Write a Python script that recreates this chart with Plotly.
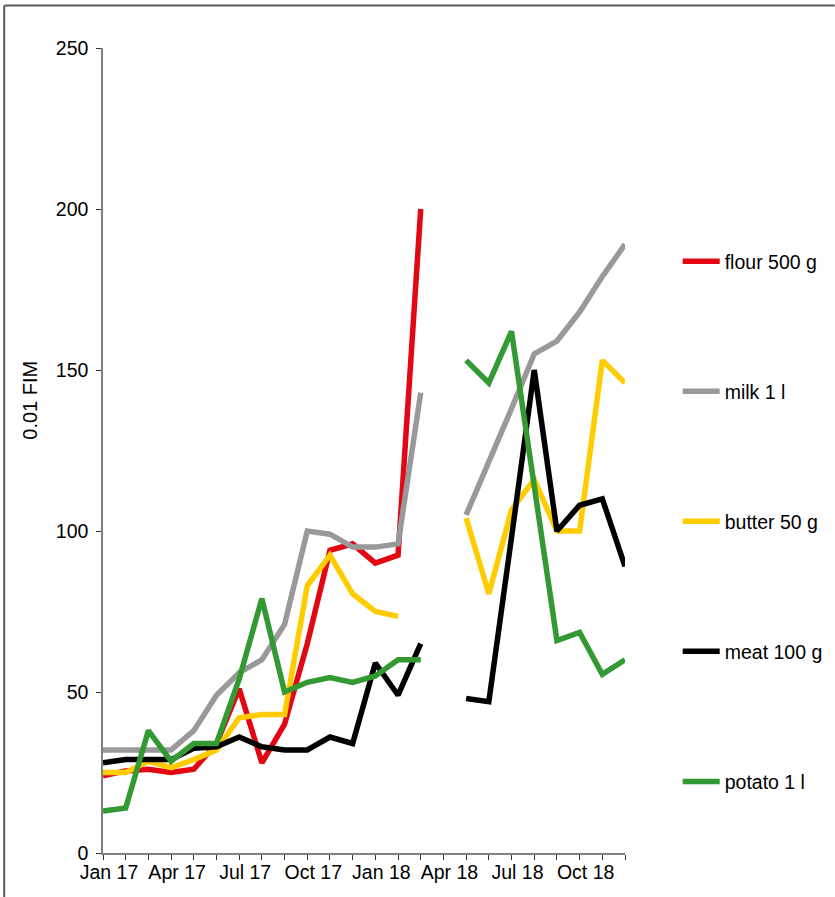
import plotly.graph_objects as go

months = ["Jan 17", "Feb 17", "Mar 17", "Apr 17", "May 17", "Jun 17",
          "Jul 17", "Aug 17", "Sep 17", "Oct 17", "Nov 17", "Dec 17",
          "Jan 18", "Feb 18", "Mar 18", "Apr 18", "May 18", "Jun 18",
          "Jul 18", "Aug 18", "Sep 18", "Oct 18", "Nov 18", "Dec 18"]
tick_labels = ["Jan 17", "Apr 17", "Jul 17", "Oct 17", "Jan 18", "Apr 18", "Jul 18", "Oct 18"]

flour = [24, 25.5, 26, 25, 26, 34, 51, 28, 40, 65, 94, 96, 90, 92.5, 200,
         None, None, None, None, None, None, None, None, None]
milk = [32, 32, 32, 32, 38, 49, 56, 60, 71, 100, 99, 95, 95, 96, 143,
        None, 105, 121, 138, 155, 159, 168, 179, 189]
butter = [25, 25, 28.5, 26.5, 29, 32, 42, 43, 43, 83, 92.5, 80.5, 75, 73.5, None,
          None, 104, 80.5, 106.5, 116, 100, 100, 153, 146]
meat = [28, 29, 29, 29, 32.5, 33, 36, 33, 32, 32, 36, 34, 59, 49, 65,
        None, 48, 47, 98, 150, 100, 108, 110, 89]
potato = [13, 14, 38, 28.5, 34, 34, 54, 79, 50, 53, 54.5, 53, 55, 60, 60,
          None, 153, 146, 162, 113, 66, 68.5, 55.5, 60]

series = [
    ("flour 500 g", flour, "#e30613"),
    ("milk 1 l", milk, "#999999"),
    ("butter 50 g", butter, "#ffcc00"),
    ("meat 100 g", meat, "#000000"),
    ("potato 1 l", potato, "#339933"),
]

x_idx = list(range(len(months)))
FONT = "Liberation Sans, Arial, sans-serif"

fig = go.Figure()
for name, vals, color in series:
    fig.add_trace(go.Scatter(
        x=x_idx, y=vals, name=name, mode="lines",
        line=dict(color=color, width=5.5),
        legendgroup=name, connectgaps=False,
        hovertemplate="%{text}: %{y}<extra>" + name + "</extra>",
        text=months,
    ))

ticktext = [m if m in tick_labels else "" for m in months]

W, H = 835, 897
L, R, T, B = 103.3, 835 - 625.3, 48, 897 - 853
pw, ph = W - L - R, H - T - B

def px_to_paper_x(px):
    return (px - L) / pw

def px_to_paper_y(py):
    return (H - B - py) / ph

fig.update_layout(
    width=W, height=H,
    margin=dict(l=L, r=R, t=T, b=B, pad=0, autoexpand=False),
    paper_bgcolor="white", plot_bgcolor="white",
    font=dict(family=FONT, size=19.5, color="#000000"),
    showlegend=True,
    legend=dict(
        x=px_to_paper_x(678), xanchor="left",
        y=px_to_paper_y(242), yanchor="top",
        tracegroupgap=101.7, itemwidth=37,
        font=dict(family=FONT, size=19.5, color="#000000"),
        bgcolor="rgba(0,0,0,0)",
    ),
    xaxis=dict(
        range=[0, 23], tickmode="array", tickvals=x_idx, ticktext=ticktext,
        ticks="outside", ticklen=5, tickwidth=1, tickcolor="#333333",
        showline=True, linecolor="#808080", linewidth=1.5,
        showgrid=False, zeroline=False, ticklabelshift=6, ticklabelstandoff=-4,
        tickfont=dict(family=FONT, size=19.5), fixedrange=True,
    ),
    yaxis=dict(
        range=[0, 250], tickmode="array", tickvals=[0, 50, 100, 150, 200, 250],
        ticks="outside", ticklen=5, tickwidth=1, tickcolor="#333333",
        showline=True, linecolor="#808080", linewidth=1.5,
        showgrid=False, zeroline=False, ticklabelstandoff=4,
        tickfont=dict(family=FONT, size=19.5), fixedrange=True,
    ),
    xaxis2=dict(
        overlaying="x", anchor="y2", range=[0, 23], tickmode="array", tickvals=x_idx,
        ticks="inside", ticklen=5, tickwidth=1, tickcolor="#333333",
        showticklabels=False, showline=False, showgrid=False, zeroline=False,
    ),
    yaxis2=dict(
        overlaying="y", anchor="x2", range=[0, 250], tickmode="array",
        tickvals=[0, 50, 100, 150, 200, 250],
        ticks="inside", ticklen=5, tickwidth=1, tickcolor="#333333",
        showticklabels=False, showline=False, showgrid=False, zeroline=False,
    ),
    annotations=[dict(
        text="0.01 FIM", textangle=-90, showarrow=False,
        xref="paper", yref="paper",
        x=px_to_paper_x(30), y=px_to_paper_y(400),
        xanchor="center", yanchor="middle",
        font=dict(family=FONT, size=20, color="#000000"),
    )],
    shapes=[
        dict(type="line", xref="paper", yref="paper",
             x0=px_to_paper_x(4.5), x1=px_to_paper_x(835), y0=px_to_paper_y(5.5), y1=px_to_paper_y(5.5),
             line=dict(color="#5a5a5a", width=2)),
        dict(type="line", xref="paper", yref="paper",
             x0=px_to_paper_x(4.5), x1=px_to_paper_x(4.5), y0=px_to_paper_y(5.5), y1=px_to_paper_y(897),
             line=dict(color="#5a5a5a", width=2)),
    ],
)

fig.write_html(
    "out.html",
    config={"displayModeBar": False},
    post_script="document.body.style.margin='0';document.body.style.padding='0';document.body.style.overflow='hidden';",
)
